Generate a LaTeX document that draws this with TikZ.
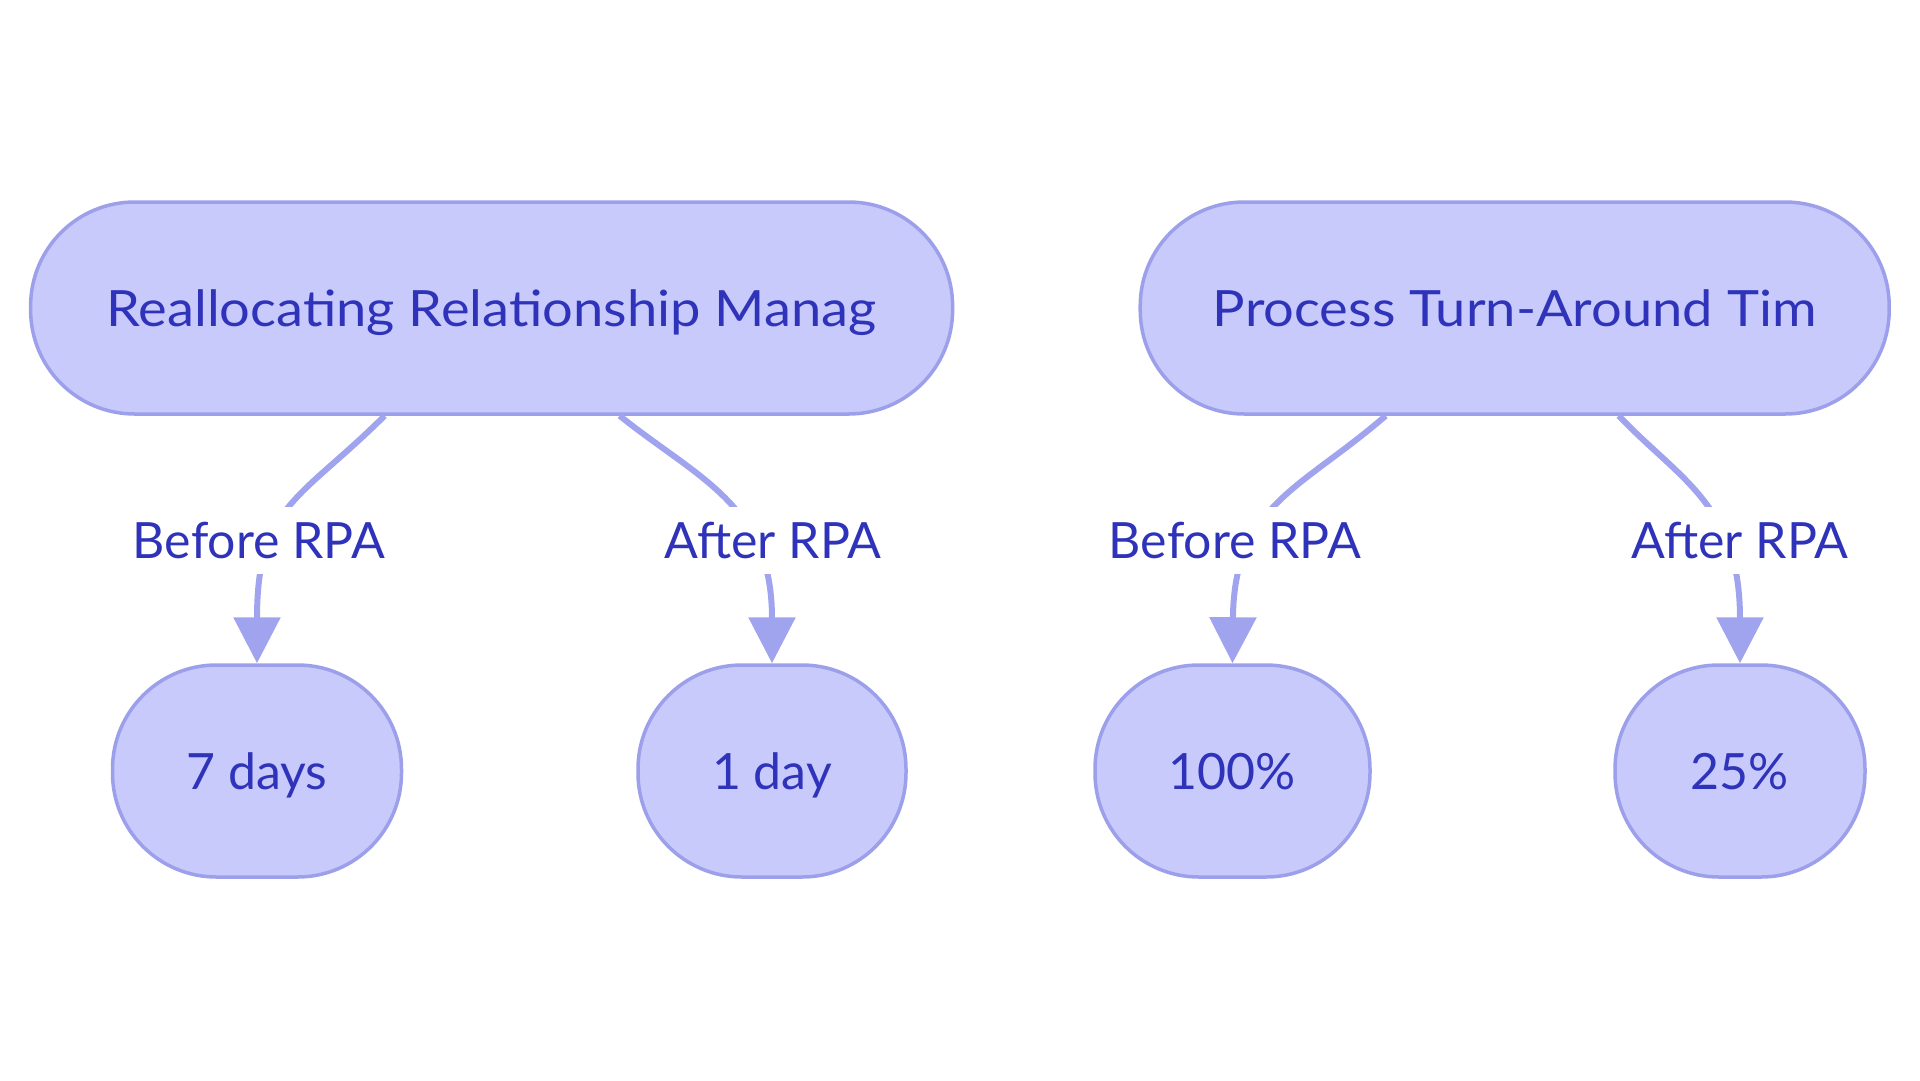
\documentclass[tikz,border=0pt]{standalone}
\usepackage{fontspec}
\setmainfont{Lato}
\usetikzlibrary{arrows.meta}
\definecolor{nodefill}{HTML}{C8CAFC}
\definecolor{nodeline}{HTML}{9C9FEA}
\definecolor{txt}{HTML}{2F33BA}
\definecolor{edgec}{HTML}{A0A4EE}
\begin{document}
\begin{tikzpicture}[x=1pt,y=-1pt,
  txtfont/.style={font=\fontsize{50}{56}\selectfont, text height=36pt, text depth=0pt},
  box/.style={draw=nodeline, fill=nodefill, line width=3.5pt, rounded corners=104pt,
    minimum height=212pt, inner sep=0pt, text=txt, txtfont},
  widebox/.style={box, font=\fontsize{50}{56}\selectfont\addfontfeature{FakeStretch=1.085}},
  lab/.style={fill=white, text=txt, inner sep=0pt, minimum height=67pt, txtfont},
  link/.style={draw=edgec, line width=6pt, -{Triangle[width=46pt,length=46pt]}}]
\useasboundingbox (0,0) rectangle (1920,1080);
% nodes
\node[widebox, minimum width=922pt] (n1) at (491.6,308) {Reallocating Relationship Manag};
\node[widebox, minimum width=749pt] (n2) at (1514.7,308) {Process Turn-Around Tim};
\node[box, minimum width=289pt] (n3) at (257,771) {7 days};
\node[box, minimum width=268pt] (n4) at (772,771) {1 day};
\node[box, minimum width=275pt] (n5) at (1232.5,771) {100\%};
\node[box, minimum width=250pt] (n6) at (1740,771) {25\%};
% edge start points on the parents' lower sides
\coordinate (s1) at ([xshift=-107pt]n1.south);
\coordinate (s2) at ([xshift=128pt]n1.south);
\coordinate (s3) at ([xshift=-129pt]n2.south);
\coordinate (s4) at ([xshift=104pt]n2.south);
% edges
\draw[link] (s1) .. controls (300,500) and (257,505) .. (n3.north);
\draw[link] (s2) .. controls (700,480) and (772,505) .. (n4.north);
\draw[link] (s3) .. controls (1300,490) and (1234,505) .. (n5.north);
\draw[link] (s4) .. controls (1680,480) and (1740,505) .. (n6.north);
% edge labels
\node[lab] (l1) at (259,540) {Before RPA};
\node[lab] (l2) at (773,540) {After RPA};
\node[lab] (l3) at (1235,540) {Before RPA};
\node[lab] (l4) at (1740,540) {After RPA};
\end{tikzpicture}
\end{document}
